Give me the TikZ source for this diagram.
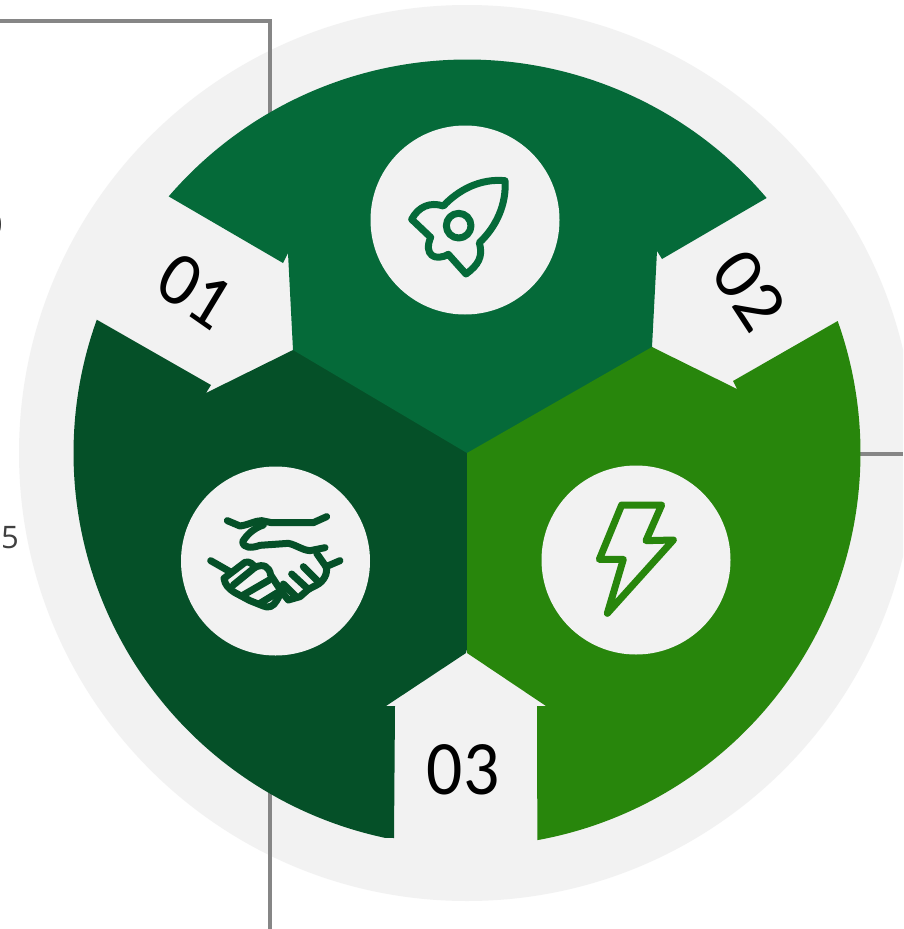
\documentclass[tikz,border=0pt]{standalone}
\usepackage{fontspec}
\setmainfont{Open Sans}
\newfontfamily\numfont{Carlito}
\definecolor{bgc}{HTML}{F2F2F2}
\definecolor{topc}{HTML}{056A39}
\definecolor{rightc}{HTML}{28860C}
\definecolor{leftc}{HTML}{055028}
\definecolor{linec}{HTML}{868686}
\tikzset{
  leader/.style={draw=linec,line width=3.6pt},
  disc/.style={circle,fill=bgc,minimum size=189pt,inner sep=0pt},
  icon/.style={line width=7pt,line cap=round,line join=round},
  num/.style={font=\numfont\fontsize{77}{80}\selectfont,text=black,inner sep=0pt,xscale=0.93},
  edge/.style={font=\fontsize{31}{34}\selectfont,inner sep=0pt,text=black!75},
  edgeb/.style={font=\fontsize{36}{38}\selectfont,inner sep=0pt}
}
\newcommand{\rimarc}[2]{plot[domain=#1:#2,samples=80,smooth] ({467+393.5*cos(\x)},{453+393.5*sin(\x)})}
\begin{document}
\begin{tikzpicture}[x=1pt,y=-1pt]
\useasboundingbox (0,0) rectangle (903,929);
\clip (0,0) rectangle (903,929);
\fill[white] (0,0) rectangle (903,929);
% background disc
\fill[bgc] (467,453) circle[radius=448];
% leaders
\coordinate (l1a) at (0,21); \coordinate (l1b) at (270,21); \coordinate (l1c) at (270,115);
\coordinate (l2a) at (858,454); \coordinate (l2b) at (903,454);
\coordinate (l3a) at (270,790); \coordinate (l3b) at (270,929);
\draw[leader] (l1a) -- (l1b) -- (l1c);
\draw[leader] (l2a) -- (l2b);
\draw[leader] (l3a) -- (l3b);
% segments: each runs slightly under the next so that no seam shows
\fill[leftc] \rimarc{102}{199.8} -- (211,385) -- (206,393) -- (293,350) -- (300,346) -- (470,446) -- (469,640) -- (466,653) -- (386,706) -- (395,706) -- (394,838) -- cycle;
\fill[topc] \rimarc{220.7}{319.6} -- (662,259) -- (657,251) -- (652,347) -- (656,351) -- (470,457) -- (467,453) -- (293,350) -- (288,253) -- (283,263) -- cycle;
\fill[rightc] \rimarc{-19.6}{79.7} -- (537,706) -- (546,706) -- (467,653) -- (467,453) -- (652,347) -- (737,389) -- (733,381) -- cycle;
% discs
\node[disc] (d1) at (465,220) {};
\node[disc] (d2) at (275.5,561) {};
\node[disc] (d3) at (636,560) {};
% rocket
\begin{scope}[shift={(360,120)},scale=1/3]
\draw[icon,topc] (435,182) .. controls (360,175) and (295,210) .. (250,258)
  .. controls (210,245) and (175,260) .. (155,298) -- (212,352)
  .. controls (190,405) and (225,425) .. (265,403) -- (318,462)
  .. controls (355,435) and (370,410) .. (358,368)
  .. controls (410,320) and (440,250) .. (435,182) -- cycle;
\draw[icon,topc] (296,317) circle[radius=37];
\end{scope}
% handshake
\begin{scope}[shift={(180,470)},scale=1/3]
\draw[icon,leftc] (142,152) -- (180,168) .. controls (205,165) and (225,152) .. (245,152) .. controls (255,152) and (265,158) .. (275,158) -- (400,158) -- (440,140);
\draw[icon,leftc] (250,165) .. controls (220,175) and (200,195) .. (188,215) .. controls (190,235) and (215,235) .. (240,226) -- (325,220) .. controls (350,225) and (365,240) .. (390,242) -- (435,233);
\draw[icon,leftc] (410,250) -- (438,290) -- (480,272);
\draw[icon,leftc] (92,272) -- (150,305);
\draw[icon,leftc] (438,290) .. controls (445,310) and (430,335) .. (410,345) -- (385,358) -- (360,380) -- (325,390) -- (305,365);
\draw[icon,leftc] (370,290) -- (415,335);
\draw[icon,leftc] (335,312) -- (385,358);
\draw[icon,leftc] (310,342) -- (350,382);
\draw[icon,leftc] (132,325) -- (195,277) .. controls (210,272) and (220,285) .. (225,292) .. controls (250,280) and (268,290) .. (272,315) -- (305,365) -- (290,392) .. controls (280,410) and (265,415) .. (250,408) -- (210,392) -- (165,368) .. controls (145,355) and (135,345) .. (132,325) -- cycle;
\draw[icon,leftc] (225,292) -- (160,345);
\draw[icon,leftc] (268,330) -- (190,375);
\draw[icon,leftc] (292,368) -- (240,400);
\end{scope}
% bolt
\begin{scope}[shift={(540,470)},scale=1/3]
\draw[icon,rightc] (245,105) -- (365,105) -- (318,212) -- (400,210) -- (202,430) -- (250,268) -- (178,268) -- cycle;
\end{scope}
% numbers
\node[num,rotate=-33] (n1) at (195,291) {01};
\node[num,rotate=-55] (n2) at (749,290) {02};
\node[num] (n3) at (463,770) {03};
% clipped texts at left edge
\node[edge,anchor=east] (e1) at (19,538) {5};
\node[edgeb,anchor=east] (e2) at (3,225) {0};
\end{tikzpicture}
\end{document}
